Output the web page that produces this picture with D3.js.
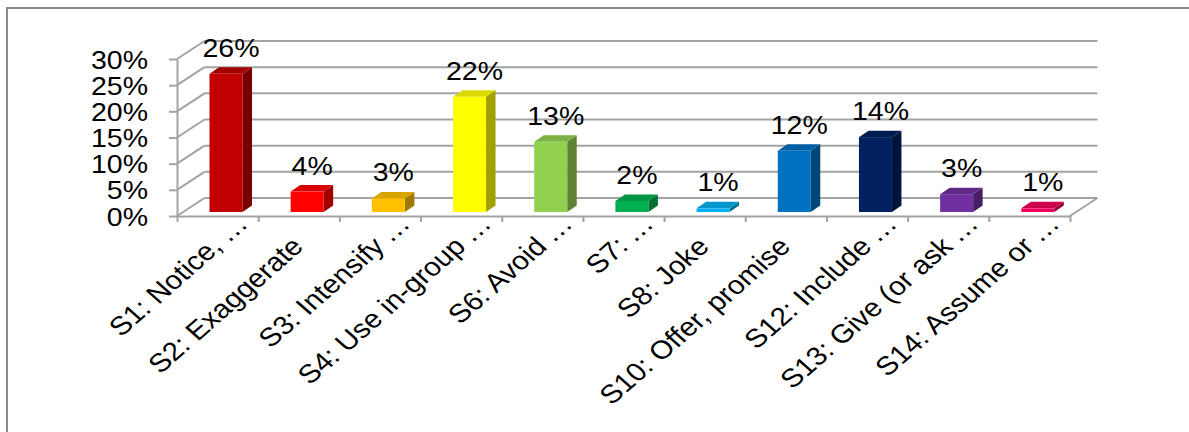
<!DOCTYPE html>
<html>
<head>
<meta charset="utf-8">
<script src="https://cdn.jsdelivr.net/npm/d3@7"></script>
<style>
  html, body { margin: 0; padding: 0; background: #fff; }
  svg { display: block; }
  text { font-family: "Liberation Sans", Arial, sans-serif; fill: #000; }
</style>
</head>
<body>
<script>
// Strategy usage shares
const categories = [
  "S1: Notice,…", "S2: Exaggerate", "S3: Intensify…", "S4: Use in-group…",
  "S6: Avoid…", "S7:…", "S8: Joke", "S10: Offer, promise",
  "S12: Include…", "S13: Give (or ask…", "S14: Assume or…"
];
const values = [0.264, 0.039, 0.026, 0.220, 0.134, 0.021, 0.007, 0.117, 0.143, 0.034, 0.007];
const yTicks = [0, 0.05, 0.10, 0.15, 0.20, 0.25, 0.30];
const palette = ["#C00000", "#FF0000", "#FFC000", "#FFFF00", "#92D050", "#00B050",
                 "#00B0F0", "#0070C0", "#002060", "#7030A0", "#F0005A"];

const W = 1189, H = 432;
const stretch = 1.14;          // horizontal text stretch
const fontSize = 25;
const catFontSize = 26;
const depth = { dx: 27.5, dy: -18 };   // wall/floor depth
const bar = { off: 8.4, lift: 4, w: 33, sdx: 9.5, sdy: -6.5 };
const gridColor = "#a3a3a3";

const svg = d3.select("body").append("svg")
  .attr("width", W).attr("height", H);

svg.append("rect").attr("width", W).attr("height", H).attr("fill", "#fff");

// outer frame (top and left edges)
svg.append("path")
  .attr("d", `M7,${H} V8 H${W}`)
  .attr("fill", "none").attr("stroke", "#8a8a8a").attr("stroke-width", 2);

const x = d3.scaleBand().domain(categories).range([177, 1070]);
const xEdge = d3.scaleLinear().domain([0, categories.length]).range(x.range());
const y = d3.scaleLinear().domain([0, 0.30]).range([216, 59]);
const [x0, x1] = x.range();

// back wall gridlines and side wall diagonals
const walls = svg.append("g").attr("stroke", gridColor).attr("stroke-width", 2).attr("fill", "none");
walls.selectAll("line.grid").data(yTicks).join("line").attr("class", "grid")
  .attr("x1", x0 + depth.dx).attr("x2", x1 + depth.dx)
  .attr("y1", d => y(d) + depth.dy).attr("y2", d => y(d) + depth.dy);
walls.selectAll("line.diag").data(yTicks).join("line").attr("class", "diag")
  .attr("x1", x0).attr("x2", x0 + depth.dx)
  .attr("y1", d => y(d)).attr("y2", d => y(d) + depth.dy);
walls.append("line")
  .attr("x1", x1).attr("y1", y(0)).attr("x2", x1 + depth.dx).attr("y2", y(0) + depth.dy);

// category axis along the front floor edge
const xAxis = svg.append("g").attr("transform", `translate(0,${y(0)})`)
  .call(d3.axisBottom(xEdge).tickValues(d3.range(0, categories.length + 1))
    .tickSize(6).tickSizeOuter(0).tickFormat(""));
xAxis.selectAll("path, line").attr("stroke", gridColor).attr("stroke-width", 2);

// value axis
const yAxis = svg.append("g").attr("transform", `translate(${x0},0)`)
  .call(d3.axisLeft(y).tickValues(yTicks).tickSize(8).tickSizeOuter(0)
    .tickFormat(d3.format(".0%")));
yAxis.selectAll("path, line").attr("stroke", gridColor).attr("stroke-width", 2);
yAxis.selectAll("text")
  .attr("x", 0).attr("dy", "0.36em")
  .attr("transform", `translate(-29,0) scale(${stretch},1)`)
  .style("font-size", fontSize + "px")
  .style("font-family", "'Liberation Sans', Arial, sans-serif")
  .attr("fill", "#000");

// 3D bars
const data = categories.map((c, i) => ({ c, v: values[i], color: palette[i] }));
const bars = svg.append("g");
data.forEach(d => {
  const fx = x(d.c) + x.bandwidth() / 2 + bar.off - bar.w / 2;
  const yb = y(0) - bar.lift;
  const yt = y(d.v) - bar.lift;
  const base = d3.color(d.color);
  const g = bars.append("g");
  // side face
  g.append("path")
    .attr("d", `M${fx + bar.w},${yt} L${fx + bar.w + bar.sdx},${yt + bar.sdy} L${fx + bar.w + bar.sdx},${yb + bar.sdy} L${fx + bar.w},${yb} Z`)
    .attr("fill", base.darker(1.3));
  // top face
  g.append("path")
    .attr("d", `M${fx},${yt} L${fx + bar.sdx},${yt + bar.sdy} L${fx + bar.w + bar.sdx},${yt + bar.sdy} L${fx + bar.w},${yt} Z`)
    .attr("fill", base.darker(0.45));
  // front face
  g.append("rect")
    .attr("x", fx).attr("y", yt).attr("width", bar.w).attr("height", yb - yt)
    .attr("fill", base);
});

// value labels
svg.append("g").selectAll("text").data(data).join("text")
  .attr("transform", d => `translate(${x(d.c) + x.bandwidth() / 2 + bar.off + 5},${y(d.v) - bar.lift - 17}) scale(${stretch},1)`)
  .attr("text-anchor", "middle")
  .style("font-size", fontSize + "px")
  .text(d => d3.format(".0%")(d.v));

// category labels, rotated; a trailing ellipsis runs past the tick anchor
const catG = svg.append("g").selectAll("g").data(categories).join("g")
  .attr("transform", c => `translate(${x(c) + x.bandwidth() / 2 + 6},248) scale(${stretch},1) rotate(-45)`)
  .style("font-size", catFontSize + "px");
catG.append("text")
  .attr("text-anchor", "end")
  .text(c => c.replace(/…$/, ""));
catG.filter(c => c.endsWith("…")).append("text")
  .attr("x", 6)
  .attr("text-anchor", "start")
  .attr("letter-spacing", 1)
  .text("…");
</script>
</body>
</html>
